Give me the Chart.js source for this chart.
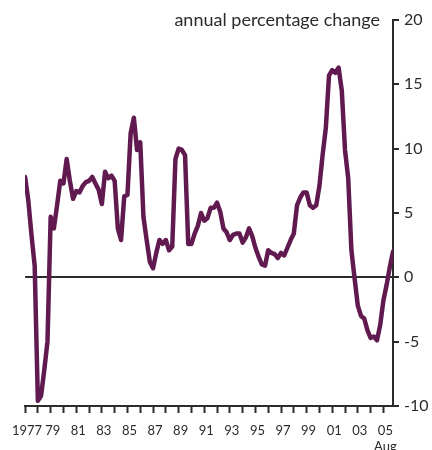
<!DOCTYPE html>
<html>
<head>
<meta charset="utf-8">
<script src="https://cdn.jsdelivr.net/npm/chart.js@4"></script>
<style>
  body { margin: 0; background: #fff; }
  #wrap { width: 432px; height: 450px; }
</style>
</head>
<body>
<div id="wrap"><canvas id="chart" width="432" height="450"></canvas></div>
<script>
// quarterly series, first quarter of 1977 onwards (annual % change)
const startYear = 1977;
const perYear = 4;
const values = [
    7.8, 6.0, 3.3, 0.9,      // 1977
    -9.6, -9.2, -7.2, -5.0,  // 1978
    4.7, 3.8, 5.6, 7.5,      // 1979
    7.3, 9.2, 7.5, 6.1,      // 1980
    6.7, 6.6, 7.1, 7.4,      // 1981
    7.5, 7.8, 7.3, 6.8,      // 1982
    5.7, 8.2, 7.7, 7.9,      // 1983
    7.5, 3.8, 2.9, 6.3,      // 1984
    6.4, 11.2, 12.4, 9.9,    // 1985
    10.5, 4.7, 2.9, 1.2,     // 1986
    0.7, 1.9, 2.9, 2.6,      // 1987
    2.9, 2.1, 2.4, 9.2,      // 1988
    10.0, 9.9, 9.5, 2.6,     // 1989
    2.6, 3.4, 4.0, 5.0,      // 1990
    4.4, 4.6, 5.4, 5.4,      // 1991
    5.8, 5.1, 3.8, 3.5,      // 1992
    2.9, 3.3, 3.4, 3.4,      // 1993
    2.7, 3.1, 3.8, 3.2,      // 1994
    2.3, 1.6, 1.0, 0.9,      // 1995
    2.1, 1.9, 1.8, 1.5,      // 1996
    1.9, 1.7, 2.3, 2.9,      // 1997
    3.4, 5.6, 6.2, 6.6,      // 1998
    6.6, 5.6, 5.4, 5.6,      // 1999
    7.1, 9.5, 11.6, 15.7,    // 2000
    16.1, 15.9, 16.3, 14.5,  // 2001
    9.9, 7.7, 2.1, -0.1,     // 2002
    -2.2, -3.0, -3.2, -4.1,  // 2003
    -4.7, -4.6, -4.9, -3.7,  // 2004
    -1.8, -0.6, 0.8, 2.0     // 2005 (to Aug)
];

const yearTicks = [1977, 1978, 1979, 1980, 1981, 1982, 1983, 1984, 1985, 1986,
    1987, 1988, 1989, 1990, 1991, 1992, 1993, 1994, 1995, 1996,
    1997, 1998, 1999, 2000, 2001, 2002, 2003, 2004, 2005];
const xTickLabels = ['1977', '', '79', '', '81', '', '83', '', '85', '',
    '87', '', '89', '', '91', '', '93', '', '95', '',
    '97', '', '99', '', '01', '', '03', '', ['05', 'Aug']];
const yTickLabels = ['-10', '-5', '0', '5', '10', '15', '20'];
const yTicks = [-10, -5, 0, 5, 10, 15, 20];
const unitLabel = 'annual percentage change';

const fontFamily = 'Lato, "Open Sans", sans-serif';
const ink = '#2b2b2b';

const points = values.map((v, i) => ({ x: startYear + i / perYear, y: v }));

// draws the unit note next to the top of the right axis
const unitNote = {
    id: 'unitNote',
    afterDraw(chart) {
        const ctx = chart.ctx;
        const y = chart.scales.y.getPixelForValue(20);
        ctx.save();
        ctx.font = '18px ' + fontFamily;
        ctx.fillStyle = ink;
        ctx.textAlign = 'right';
        ctx.textBaseline = 'middle';
        ctx.fillText(unitLabel, chart.chartArea.right - 13, y);
        ctx.restore();
    }
};

new Chart(document.getElementById('chart'), {
    type: 'line',
    data: {
        datasets: [{
            data: points,
            borderColor: '#611a50',
            borderWidth: 4.5,
            pointRadius: 0,
            tension: 0,
            borderJoinStyle: 'round',
            borderCapStyle: 'round'
        }]
    },
    options: {
        responsive: false,
        animation: false,
        layout: { padding: { top: 20, left: 25, right: 0, bottom: 0 } },
        plugins: {
            legend: { display: false },
            tooltip: { enabled: false }
        },
        scales: {
            x: {
                type: 'linear',
                min: startYear,
                max: 2005.75,
                afterBuildTicks: scale => {
                    scale.ticks = yearTicks.map(v => ({ value: v }));
                },
                afterFit: scale => { scale.height = 44; },
                grid: {
                    drawOnChartArea: false,
                    tickLength: 7,
                    tickWidth: 2,
                    tickColor: ink
                },
                border: { display: true, color: ink, width: 2 },
                ticks: {
                    autoSkip: false,
                    maxRotation: 0,
                    padding: 10,
                    labelOffset: 2,
                    color: ink,
                    font: { family: fontFamily, size: 13 },
                    callback: (value, index) => xTickLabels[index]
                }
            },
            y: {
                position: 'right',
                min: -10,
                max: 20,
                afterBuildTicks: scale => {
                    scale.ticks = yTicks.map(v => ({ value: v }));
                },
                afterFit: scale => { scale.width = 39; },
                grid: {
                    drawOnChartArea: true,
                    color: c => (c.tick && c.tick.value === 0) ? ink : 'rgba(0,0,0,0)',
                    lineWidth: 2,
                    tickLength: 6,
                    tickWidth: 2,
                    tickColor: ink
                },
                border: { display: true, color: ink, width: 2 },
                ticks: {
                    padding: 5,
                    color: ink,
                    font: { family: fontFamily, size: 16 },
                    callback: (value, index) => yTickLabels[index]
                }
            }
        }
    },
    plugins: [unitNote]
});
</script>
</body>
</html>
